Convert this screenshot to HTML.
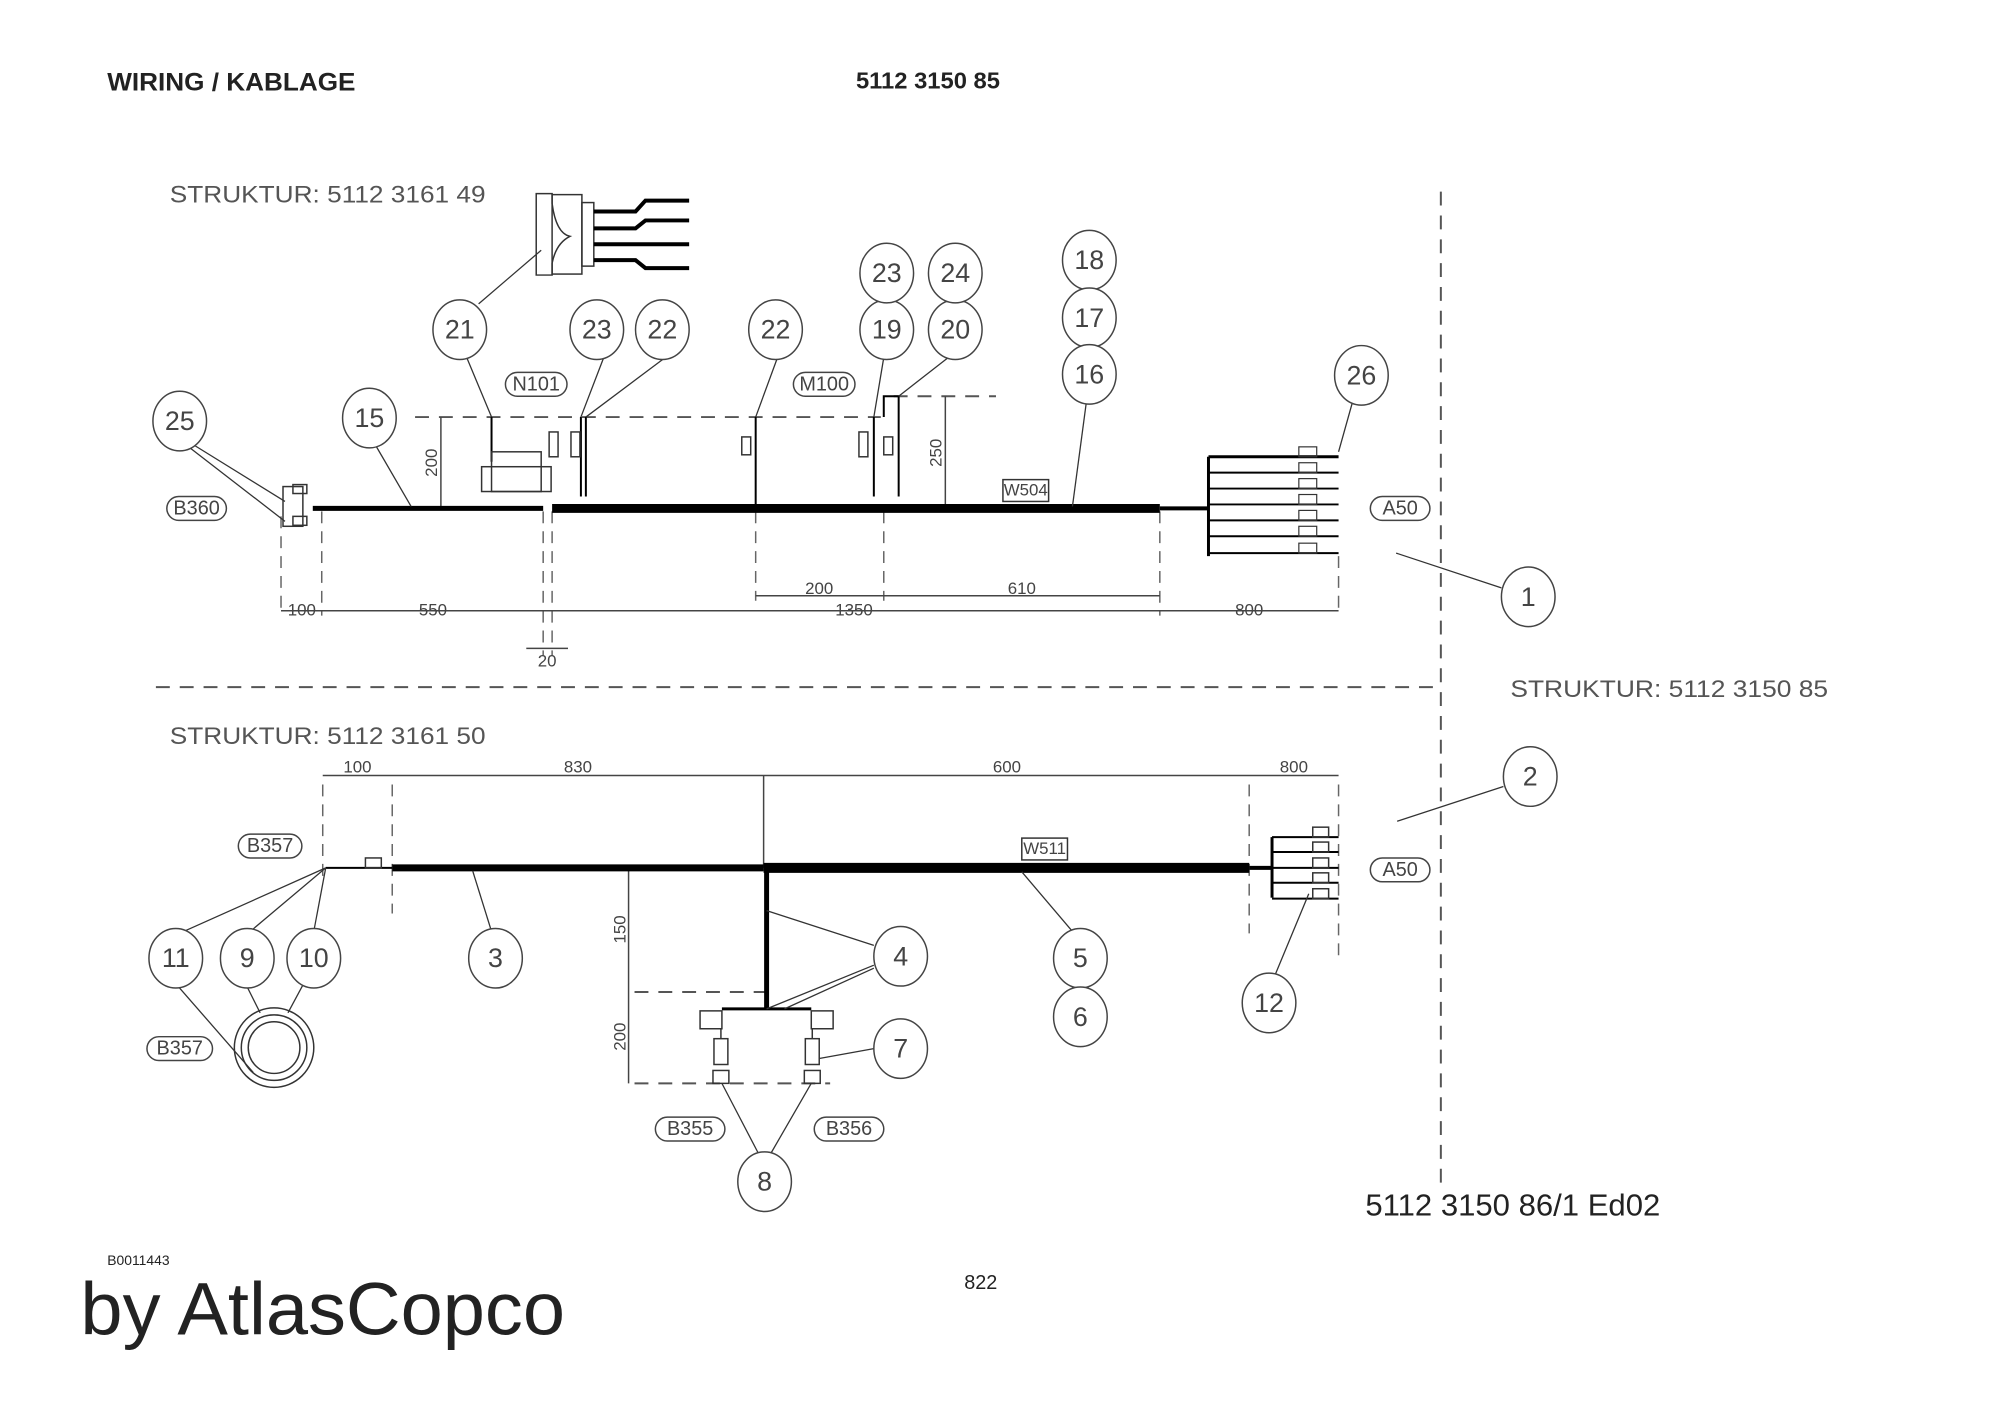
<!DOCTYPE html>
<html><head><meta charset="utf-8"><style>
html,body{margin:0;padding:0;background:#fff;}
svg{display:block;}
.t{font-family:"Liberation Sans",sans-serif;fill:#222;}
.c{font-family:"Liberation Sans",sans-serif;font-size:27px;fill:#444;text-anchor:middle;dominant-baseline:central;}
.s{font-family:"Liberation Sans",sans-serif;font-size:17px;fill:#444;text-anchor:middle;}
.l{font-family:"Liberation Sans",sans-serif;font-size:20px;fill:#444;text-anchor:middle;dominant-baseline:central;}
</style></head><body>
<svg width="2000" height="1415" viewBox="0 0 2000 1415" xmlns="http://www.w3.org/2000/svg">
<rect width="2000" height="1415" fill="#fff"/>
<g transform="scale(0.993)">
<text class="t" x="108" y="91" font-size="25" font-weight="bold" textLength="250" lengthAdjust="spacingAndGlyphs">WIRING / KABLAGE</text>
<text class="t" x="862" y="89" font-size="23" font-weight="bold" textLength="145" lengthAdjust="spacingAndGlyphs">5112 3150 85</text>
<text class="t" x="171" y="204" font-size="24" style="fill:#555" textLength="318" lengthAdjust="spacingAndGlyphs">STRUKTUR: 5112 3161 49</text>
<text class="t" x="1521" y="702" font-size="24" style="fill:#555" textLength="320" lengthAdjust="spacingAndGlyphs">STRUKTUR: 5112 3150 85</text>
<text class="t" x="171" y="749" font-size="24" style="fill:#555" textLength="318" lengthAdjust="spacingAndGlyphs">STRUKTUR: 5112 3161 50</text>
<text class="t" x="1375" y="1224" font-size="31" textLength="297" lengthAdjust="spacingAndGlyphs">5112 3150 86/1  Ed02</text>
<text class="t" x="108" y="1274" font-size="14">B0011443</text>
<text class="t" x="971" y="1298" font-size="20">822</text>
<text class="t" x="81" y="1344" font-size="75" textLength="488" lengthAdjust="spacingAndGlyphs">by AtlasCopco</text>

<g stroke="#555" fill="none" stroke-width="2" stroke-dasharray="14,10">
<line x1="1451" y1="193" x2="1451" y2="1192"/>
<line x1="157" y1="692" x2="1451" y2="692"/>
<line x1="418" y1="420" x2="887" y2="420"/>
<line x1="900" y1="399" x2="1003" y2="399"/>
<line x1="639" y1="999" x2="772" y2="999"/>
<line x1="639" y1="1091" x2="836" y2="1091"/>
</g>
<g stroke="#666" stroke-width="1.5" stroke-dasharray="12,8">
<line x1="283" y1="520" x2="283" y2="620"/><line x1="324" y1="515" x2="324" y2="620"/>
<line x1="547" y1="515" x2="547" y2="660"/><line x1="556" y1="515" x2="556" y2="660"/>
<line x1="761" y1="515" x2="761" y2="605"/><line x1="890" y1="515" x2="890" y2="605"/>
<line x1="1168" y1="515" x2="1168" y2="620"/><line x1="1348" y1="560" x2="1348" y2="620"/>
<line x1="325" y1="790" x2="325" y2="885"/><line x1="395" y1="790" x2="395" y2="920"/>
<line x1="1258" y1="790" x2="1258" y2="940"/><line x1="1348" y1="790" x2="1348" y2="965"/>
</g>
<g stroke="#444" stroke-width="1.5" fill="none">
<line x1="283" y1="615" x2="1348" y2="615"/>
<line x1="761" y1="600" x2="1168" y2="600"/>
<line x1="530" y1="653" x2="572" y2="653"/>
<line x1="444" y1="420" x2="444" y2="512"/>
<line x1="952" y1="399" x2="952" y2="512"/>
<line x1="325" y1="781" x2="1348" y2="781"/>
<line x1="769" y1="781" x2="769" y2="874"/>
<line x1="633" y1="874" x2="633" y2="1091"/>
</g>
<g class="s">
<text x="304" y="620">100</text><text x="436" y="620">550</text><text x="860" y="620">1350</text><text x="1258" y="620">800</text>
<text x="825" y="598">200</text><text x="1029" y="598">610</text><text x="551" y="671">20</text>
<text x="360" y="778">100</text><text x="582" y="778">830</text><text x="1014" y="778">600</text><text x="1303" y="778">800</text>
<text transform="translate(440,466) rotate(-90)">200</text>
<text transform="translate(948,456) rotate(-90)">250</text>
<text transform="translate(630,936) rotate(-90)">150</text>
<text transform="translate(630,1044) rotate(-90)">200</text>
</g>

<g stroke="#000" fill="none">
<line x1="315" y1="512" x2="547" y2="512" stroke-width="5"/>
<line x1="556" y1="512" x2="1168" y2="512" stroke-width="9"/>
<line x1="1168" y1="512" x2="1217" y2="512" stroke-width="4"/>
<line x1="1217" y1="460" x2="1217" y2="560" stroke-width="3"/>
<line x1="761" y1="420" x2="761" y2="512" stroke-width="2"/>
<line x1="880" y1="420" x2="880" y2="500" stroke-width="2"/>
<polyline points="890,420 890,399 905,399 905,500" stroke-width="2"/>
<line x1="590" y1="420" x2="590" y2="500" stroke-width="2"/>
<line x1="585" y1="420" x2="585" y2="500" stroke-width="2"/>
<line x1="495" y1="420" x2="495" y2="465" stroke-width="2"/>
</g>
<g stroke="#333" fill="none" stroke-width="1.5">
<rect x="495" y="455" width="50" height="40"/><rect x="485" y="470" width="70" height="25"/>
<rect x="553" y="435" width="9" height="25"/><rect x="575" y="435" width="9" height="25"/>
<rect x="747" y="440" width="9" height="18"/><rect x="890" y="440" width="9" height="18"/>
<rect x="865" y="435" width="9" height="25"/>
<rect x="285" y="490" width="20" height="40"/>
<rect x="295" y="488" width="14" height="9"/><rect x="295" y="520" width="14" height="9"/>
<rect x="1010" y="483" width="46" height="22"/>
<rect x="1029" y="844" width="46" height="22" />
</g>
<text class="s" x="1033" y="499" font-size="13">W504</text>
<text class="s" x="1052" y="860" font-size="13">W511</text>
<g stroke="#000" stroke-width="2">
<line x1="1217" y1="460" x2="1348" y2="460" stroke-width="3"/>
<line x1="1217" y1="476" x2="1348" y2="476"/><line x1="1217" y1="492" x2="1348" y2="492"/>
<line x1="1217" y1="508" x2="1348" y2="508"/><line x1="1217" y1="524" x2="1348" y2="524"/>
<line x1="1217" y1="540" x2="1348" y2="540"/><line x1="1217" y1="557" x2="1348" y2="557"/>
</g>
<g stroke="#333" fill="none" stroke-width="1.2">
<rect x="1308" y="450" width="18" height="10"/><rect x="1308" y="466" width="18" height="10"/><rect x="1308" y="482" width="18" height="10"/><rect x="1308" y="498" width="18" height="10"/><rect x="1308" y="514" width="18" height="10"/><rect x="1308" y="530" width="18" height="10"/><rect x="1308" y="547" width="18" height="10"/>
</g>
<g stroke="#333" fill="none" stroke-width="1.5">
<path d="M540,195 L556,195 L556,205 Q560,235 574,238 Q560,245 556,265 L556,277 L540,277 Z"/>
<rect x="556" y="196" width="30" height="80"/><rect x="586" y="204" width="12" height="64"/>
</g>
<g stroke="#000" stroke-width="4" fill="none">
<path d="M598,213 L640,213 L650,202 L694,202"/>
<path d="M598,230 L640,230 L650,222 L694,222"/>
<path d="M598,246 L694,246"/>
<path d="M598,262 L640,262 L650,270 L694,270"/>
</g>

<g stroke="#000" fill="none">
<line x1="328" y1="874" x2="395" y2="874" stroke-width="2"/>
<line x1="395" y1="874" x2="769" y2="874" stroke-width="7"/>
<line x1="769" y1="874" x2="1258" y2="874" stroke-width="10"/>
<line x1="1258" y1="874" x2="1281" y2="874" stroke-width="4"/>
<line x1="772" y1="874" x2="772" y2="1016" stroke-width="5"/>
<line x1="727" y1="1016" x2="817" y2="1016" stroke-width="3"/>
<line x1="1281" y1="843" x2="1281" y2="904" stroke-width="3"/>
</g>
<g stroke="#000" stroke-width="2">
<line x1="1281" y1="843" x2="1348" y2="843"/><line x1="1281" y1="858" x2="1348" y2="858"/><line x1="1281" y1="874" x2="1348" y2="874"/><line x1="1281" y1="889" x2="1348" y2="889"/><line x1="1281" y1="905" x2="1348" y2="905"/>
</g>
<g stroke="#333" fill="none" stroke-width="1.5">
<rect x="1322" y="833" width="16" height="10"/><rect x="1322" y="848" width="16" height="10"/><rect x="1322" y="864" width="16" height="10"/><rect x="1322" y="879" width="16" height="10"/><rect x="1322" y="895" width="16" height="10"/>
<rect x="368" y="864" width="16" height="10"/>
<rect x="705" y="1018" width="22" height="18"/><rect x="817" y="1018" width="22" height="18"/>
<rect x="719" y="1046" width="14" height="26"/><rect x="811" y="1046" width="14" height="26"/>
<line x1="726" y1="1036" x2="726" y2="1046"/><line x1="818" y1="1036" x2="818" y2="1046"/>
<rect x="718" y="1078" width="16" height="13"/><rect x="810" y="1078" width="16" height="13"/>
<circle cx="276" cy="1055" r="40"/><circle cx="276" cy="1055" r="33"/><circle cx="276" cy="1055" r="26"/>
</g>

<g stroke="#333" stroke-width="1.3" fill="none">
<line x1="195" y1="448" x2="287" y2="505"/><line x1="190" y1="450" x2="287" y2="525"/>
<line x1="378" y1="448" x2="414" y2="510"/>
<line x1="470" y1="360" x2="495" y2="420"/><line x1="482" y1="306" x2="545" y2="252"/>
<line x1="608" y1="360" x2="585" y2="420"/><line x1="670" y1="360" x2="590" y2="420"/>
<line x1="783" y1="360" x2="761" y2="420"/><line x1="890" y1="360" x2="880" y2="420"/><line x1="955" y1="360" x2="905" y2="399"/>
<line x1="1094" y1="405" x2="1080" y2="510"/><line x1="1362" y1="405" x2="1348" y2="455"/>
<line x1="1406" y1="557" x2="1512" y2="592"/><line x1="1407" y1="827" x2="1514" y2="792"/>
<line x1="185" y1="938" x2="328" y2="874"/><line x1="252" y1="938" x2="328" y2="874"/><line x1="316" y1="938" x2="328" y2="874"/>
<line x1="180" y1="994" x2="255" y2="1080"/><line x1="249" y1="994" x2="262" y2="1020"/><line x1="305" y1="992" x2="290" y2="1020"/>
<line x1="495" y1="938" x2="476" y2="877"/>
<line x1="880" y1="952" x2="772" y2="917"/><line x1="880" y1="972" x2="772" y2="1016"/><line x1="880" y1="975" x2="790" y2="1016"/>
<line x1="1080" y1="938" x2="1029" y2="878"/>
<line x1="1284" y1="982" x2="1318" y2="900"/>
<line x1="880" y1="1056" x2="825" y2="1066"/>
<line x1="764" y1="1162" x2="727" y2="1091"/><line x1="776" y1="1162" x2="817" y2="1091"/>
</g>

<g stroke="#444" fill="#fff" stroke-width="1.5">
<ellipse cx="181" cy="424" rx="27" ry="30"/><ellipse cx="372" cy="421" rx="27" ry="30"/>
<ellipse cx="463" cy="332" rx="27" ry="30"/><ellipse cx="601" cy="332" rx="27" ry="30"/><ellipse cx="667" cy="332" rx="27" ry="30"/><ellipse cx="781" cy="332" rx="27" ry="30"/>
<ellipse cx="893" cy="332" rx="27" ry="30"/><ellipse cx="962" cy="332" rx="27" ry="30"/><ellipse cx="893" cy="275" rx="27" ry="30"/><ellipse cx="962" cy="275" rx="27" ry="30"/>
<ellipse cx="1097" cy="262" rx="27" ry="30"/><ellipse cx="1097" cy="320" rx="27" ry="30"/><ellipse cx="1097" cy="377" rx="27" ry="30"/>
<ellipse cx="1371" cy="378" rx="27" ry="30"/><ellipse cx="1539" cy="601" rx="27" ry="30"/><ellipse cx="1541" cy="782" rx="27" ry="30"/>
<ellipse cx="177" cy="965" rx="27" ry="30"/><ellipse cx="249" cy="965" rx="27" ry="30"/><ellipse cx="316" cy="965" rx="27" ry="30"/><ellipse cx="499" cy="965" rx="27" ry="30"/>
<ellipse cx="907" cy="963" rx="27" ry="30"/><ellipse cx="1088" cy="965" rx="27" ry="30"/><ellipse cx="1088" cy="1024" rx="27" ry="30"/>
<ellipse cx="1278" cy="1010" rx="27" ry="30"/><ellipse cx="907" cy="1056" rx="27" ry="30"/><ellipse cx="770" cy="1190" rx="27" ry="30"/>
</g>
<g class="c">
<text x="181" y="424">25</text><text x="372" y="421">15</text><text x="463" y="332">21</text><text x="601" y="332">23</text><text x="667" y="332">22</text><text x="781" y="332">22</text>
<text x="893" y="332">19</text><text x="962" y="332">20</text><text x="893" y="275">23</text><text x="962" y="275">24</text>
<text x="1097" y="262">18</text><text x="1097" y="320">17</text><text x="1097" y="377">16</text><text x="1371" y="378">26</text><text x="1539" y="601">1</text><text x="1541" y="782">2</text>
<text x="177" y="965">11</text><text x="249" y="965">9</text><text x="316" y="965">10</text><text x="499" y="965">3</text><text x="907" y="963">4</text><text x="1088" y="965">5</text><text x="1088" y="1024">6</text>
<text x="1278" y="1010">12</text><text x="907" y="1056">7</text><text x="770" y="1190">8</text>
</g>
<g stroke="#444" fill="#fff" stroke-width="1.5">
<rect x="168" y="500" width="60" height="24" rx="12"/><rect x="509" y="375" width="62" height="24" rx="12"/><rect x="799" y="375" width="62" height="24" rx="12"/>
<rect x="1380" y="500" width="60" height="24" rx="12"/><rect x="1380" y="864" width="60" height="24" rx="12"/>
<rect x="240" y="840" width="64" height="24" rx="12"/><rect x="148" y="1044" width="66" height="24" rx="12"/>
<rect x="660" y="1125" width="70" height="24" rx="12"/><rect x="820" y="1125" width="70" height="24" rx="12"/>
</g>
<g class="l">
<text x="198" y="512">B360</text><text x="540" y="387">N101</text><text x="830" y="387">M100</text>
<text x="1410" y="512">A50</text><text x="1410" y="876">A50</text>
<text x="272" y="852">B357</text><text x="181" y="1056">B357</text>
<text x="695" y="1137">B355</text><text x="855" y="1137">B356</text>
</g>
</g>
</svg>
</body></html>
